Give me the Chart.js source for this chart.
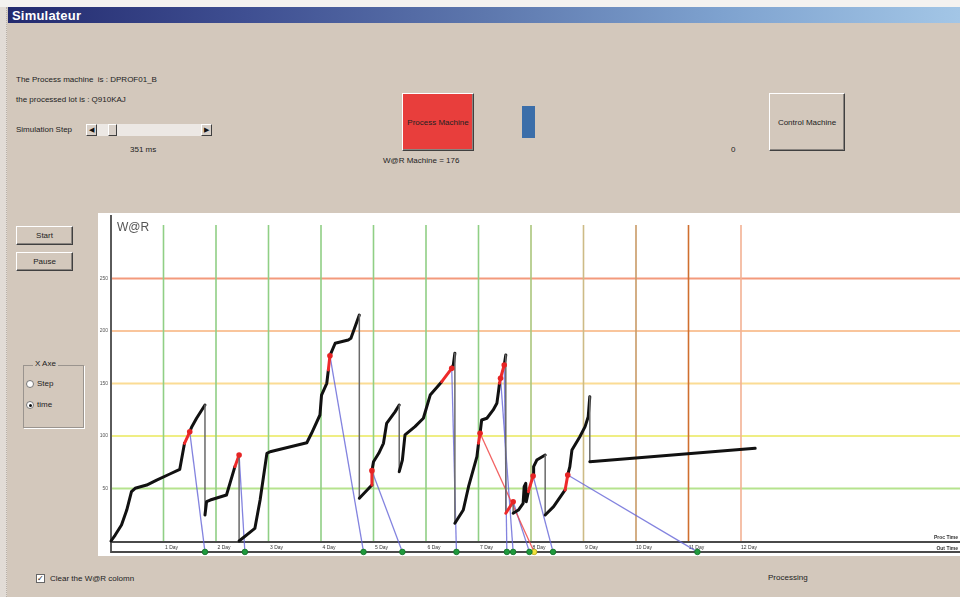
<!DOCTYPE html>
<html>
<head>
<meta charset="utf-8">
<script src="https://cdn.jsdelivr.net/npm/chart.js@4"></script>
<style>
  html,body{margin:0;padding:0;}
  body{width:960px;height:597px;position:relative;overflow:hidden;background:#d3c8bc;font-family:"Liberation Sans",Arial,sans-serif;font-size:8px;color:#222;}
  .abs{position:absolute;white-space:nowrap;}
  #topstrip{left:0;top:0;width:960px;height:7px;background:#f4f2f0;}
  #leftstrip{left:0;top:7px;width:6px;height:590px;background:#e2dcd6;border-right:1px dotted #b8b0a8;}
  #titlebar{left:8px;top:7px;width:952px;height:16px;background:linear-gradient(90deg,#232a6e 0%,#3f4f92 25%,#5d77ad 50%,#7ea2cf 75%,#a3c6e6 100%);}
  #titlebar span{position:absolute;left:4px;top:1px;font:bold 13px "Liberation Sans",Arial,sans-serif;color:#fff;letter-spacing:0.2px;}
  .btn{position:absolute;box-sizing:border-box;background:#d3c8bc;border-top:1px solid #fff;border-left:1px solid #fff;border-right:1px solid #404040;border-bottom:1px solid #404040;box-shadow:inset -1px -1px 0 #8a8580;display:flex;align-items:center;justify-content:center;font-size:8px;color:#222;}
  #scroll{left:86px;top:124px;width:126px;height:12px;background:#ece8e4;}
  .sb{position:absolute;top:0;width:11px;height:12px;box-sizing:border-box;background:#d8d0c8;border-top:1px solid #fff;border-left:1px solid #fff;border-right:1px solid #404040;border-bottom:1px solid #404040;font-size:7px;line-height:10px;text-align:center;color:#111;}
  #group{left:23px;top:365px;width:61px;height:63px;box-sizing:border-box;border:1px solid #9a948e;box-shadow:1px 1px 0 #fff;}
  .radio{position:absolute;width:8px;height:8px;border-radius:50%;background:#fff;border:1px solid #777;box-sizing:border-box;}
  #chartbox{position:absolute;left:98px;top:213px;width:862px;height:343px;background:#fff;}
</style>
</head>
<body>
<div id="topstrip" class="abs"></div>
<div id="leftstrip" class="abs"></div>
<div id="titlebar" class="abs"><span>Simulateur</span></div>

<div class="abs" style="left:16px;top:75px;">The Process machine&nbsp; is : DPROF01_B</div>
<div class="abs" style="left:16px;top:95px;">the processed lot is : Q910KAJ</div>
<div class="abs" style="left:16px;top:125px;">Simulation Step</div>
<div id="scroll" class="abs">
  <div class="sb" style="left:0;">&#9664;</div>
  <div class="sb" style="left:22px;width:9px;"></div>
  <div class="sb" style="left:115px;">&#9654;</div>
</div>
<div class="abs" style="left:130px;top:145px;">351 ms</div>

<div class="btn" style="left:402px;top:93px;width:72px;height:58px;background:#e83e3c;">Process Machine</div>
<div class="abs" style="left:383px;top:156px;">W@R Machine = 176</div>
<div class="abs" style="left:522px;top:106px;width:13px;height:32px;background:#3b6ea9;"></div>
<div class="abs" style="left:731px;top:145px;">0</div>
<div class="btn" style="left:769px;top:93px;width:76px;height:58px;">Control Machine</div>

<div class="btn" style="left:16px;top:226px;width:57px;height:19px;">Start</div>
<div class="btn" style="left:16px;top:252px;width:57px;height:19px;">Pause</div>

<div id="group" class="abs"></div>
<div class="abs" style="left:33px;top:359px;background:#d3c8bc;padding:0 2px;">X Axe</div>
<div class="radio abs" style="left:26px;top:380px;"></div>
<div class="abs" style="left:37px;top:379px;">Step</div>
<div class="radio abs" style="left:26px;top:401px;"><div style="position:absolute;left:2px;top:2px;width:3px;height:3px;border-radius:50%;background:#111;"></div></div>
<div class="abs" style="left:37px;top:400px;">time</div>

<div class="abs" style="left:36px;top:574px;width:9px;height:9px;box-sizing:border-box;background:#fff;border:1px solid #666;font-size:8px;line-height:7px;text-align:center;">&#10003;</div>
<div class="abs" style="left:50px;top:574px;">Clear the W@R colomn</div>
<div class="abs" style="left:768px;top:573px;">Processing</div>

<div id="chartbox"><canvas id="c" width="862" height="343"></canvas></div>

<script>
// ---------- DATA ----------
const yTicks = [50, 100, 150, 200, 250];
const dayTicks = [1, 2, 3, 4, 5, 6, 7, 8, 9, 10, 11, 12];

// W@R curve (time in days, W@R value)
const curveDay = [
  0, 0.08, 0.20, 0.30, 0.39, 0.46, 0.68, 0.87, 1.12, 1.31, 1.40, 1.50, 1.54, 1.63, 1.79,
  1.79, 1.82, 1.89, 2.20, 2.36, 2.44,
  2.44, 2.74, 2.84, 2.97, 3.03, 3.73, 3.82, 3.98, 4.01, 4.11, 4.14, 4.17, 4.27, 4.52, 4.57, 4.73,
  4.73, 4.97, 4.97, 5.00, 5.10, 5.19, 5.25, 5.41, 5.49,
  5.49, 5.55, 5.60, 5.79, 5.95, 6.08, 6.30, 6.49, 6.52, 6.55,
  6.55, 6.71, 6.81, 6.97, 7.00, 7.03, 7.06, 7.16, 7.28, 7.35, 7.38, 7.40, 7.42, 7.49, 7.52,
  7.52, 7.66,
  7.66, 7.76, 7.85, 7.87, 7.90, 7.91, 7.95, 8.04, 8.05, 8.11, 8.27,
  8.27, 8.43, 8.65, 8.70, 8.74, 8.78, 8.93, 9.03, 9.09, 9.12,
  9.12, 12.27
];
const curveWaR = [
  0, 5.7, 15.2, 29.5, 47, 50.2, 53.3, 58, 63.8, 68.3, 93, 104, 108.9, 116.9, 129.5,
  24.8, 37.4, 39, 43.8, 70.8, 81.9,
  0, 12, 39, 83.5, 85, 93.6, 102.6, 120, 139, 150.2, 162.9, 176.5, 188.3, 191.4, 193, 215.2,
  40.7, 53.3, 67, 75.5, 83.5, 93, 112, 123, 129.5,
  66, 77, 101, 108.9, 116.9, 139, 151.7, 164.5, 167.6, 178.8,
  16.9, 29.5, 51.7, 80.3, 93, 102.6, 115.2, 116.9, 124.8, 131.1, 142.2, 150.2, 155, 167.6, 177.1,
  26.4, 37.4,
  26.4, 29.5, 35.9, 51.7, 55, 37.4, 47, 61.9, 70.8, 77.1, 81.9,
  24.8, 32.7, 48.6, 62.9, 70.8, 86.7, 99.3, 108.9, 118.4, 137.4,
  75.5, 88.3
];
// curve segments (index i -> i+1) spent in the process machine
const processedSeg = [10, 19, 31, 38, 52, 60, 67, 68, 71, 79, 86];
// lots marked on the curve and their out time (days)
const markIdx = [11, 20, 32, 39, 53, 61, 68, 69, 72, 80, 87];
const outDay  = [1.79, 2.55, 4.81, 5.55, 6.58, 8.06, 7.66, 7.54, 7.97, 8.42, 11.17];
const outLate = [false, false, false, false, false, true, false, false, false, false, false];

// ---------- LAYOUT (pixel mapping of the white plot box) ----------
const PX_X0 = 13, PX_PER_DAY = 52.5, BOX_W = 862;   // day 0 at 13px from box left
const PX_Y0 = 328, PX_PER_UNIT = 1.05, BOX_H = 343; // value 0 at 328px from box top
const X_MIN = -PX_X0 / PX_PER_DAY, X_MAX = (BOX_W - PX_X0) / PX_PER_DAY;
const Y_MAX = PX_Y0 / PX_PER_UNIT, Y_MIN = -(BOX_H - PX_Y0) / PX_PER_UNIT;
const OUT_LEVEL = -10.4, GRID_TOP = 301;

const hColors = ['#b6e38e', '#efee84', '#fbdc94', '#f9c59c', '#f39a7c'];
const vColors = ['#90cf85','#90cf85','#90cf85','#90cf85','#90cf85','#90cf85','#90cf85',
                 '#abc67c','#cdbb86','#c99a66','#cf6f2f','#f3b193'];

const curvePts = curveDay.map((d, i) => ({x: d, y: curveWaR[i]}));
const isDrop = i => curveDay[i + 1] === curveDay[i] && curveWaR[i + 1] < curveWaR[i];

const datasets = [];
// links from marked points to their out time
markIdx.forEach((mi, k) => {
  datasets.push({
    data: [{x: curveDay[mi], y: curveWaR[mi]}, {x: outDay[k], y: OUT_LEVEL}],
    borderColor: outLate[k] ? 'rgba(240,70,70,0.85)' : 'rgba(100,100,215,0.8)',
    borderWidth: 1.3, pointRadius: 0, order: 3
  });
});
// W@R curve
datasets.push({
  data: curvePts,
  order: 1,
  borderColor: '#111',
  borderWidth: 3,
  borderJoinStyle: 'round',
  borderCapStyle: 'round',
  tension: 0,
  pointRadius: ctx => markIdx.includes(ctx.dataIndex) ? 2.8 : 0,
  pointBackgroundColor: '#e62424',
  pointBorderColor: '#e62424',
  pointBorderWidth: 0,
  segment: {
    borderColor: ctx => processedSeg.includes(ctx.p0DataIndex) ? '#ee2a2a' : (isDrop(ctx.p0DataIndex) ? '#6a6a6a' : '#111'),
    borderWidth: ctx => isDrop(ctx.p0DataIndex) ? 1.5 : 3
  }
});
// out time dots
datasets.push({
  data: outDay.map(d => ({x: d, y: OUT_LEVEL})),
  showLine: false, order: 0,
  pointRadius: 2.8,
  pointBackgroundColor: outLate.map(l => l ? '#f2e23c' : '#1f9a3c'),
  pointBorderColor: outLate.map(l => l ? '#b8a820' : '#14702a'),
  pointBorderWidth: 0.8
});

const bgPlugin = {
  id: 'bg',
  beforeDatasetsDraw(chart) {
    const {ctx, chartArea, scales: {x, y}} = chart;
    const x0 = x.getPixelForValue(0);
    const right = chartArea.right;
    ctx.save();
    // horizontal W@R level lines
    yTicks.forEach((v, i) => {
      const py = y.getPixelForValue(v);
      ctx.strokeStyle = hColors[i]; ctx.lineWidth = 2;
      ctx.beginPath(); ctx.moveTo(x0, py); ctx.lineTo(right, py); ctx.stroke();
      ctx.fillStyle = '#555'; ctx.font = '5px "Liberation Sans", Arial';
      ctx.textAlign = 'right'; ctx.textBaseline = 'middle';
      ctx.fillText(String(v), x0 - 3, py);
    });
    // vertical day lines
    const yTop = y.getPixelForValue(GRID_TOP), yZero = y.getPixelForValue(0);
    dayTicks.forEach((d, i) => {
      const px = x.getPixelForValue(d);
      ctx.strokeStyle = vColors[i]; ctx.lineWidth = 1.6;
      ctx.beginPath(); ctx.moveTo(px, yTop); ctx.lineTo(px, yZero); ctx.stroke();
    });
    // axes
    const yOut = y.getPixelForValue(OUT_LEVEL);
    ctx.strokeStyle = '#5a5a5a'; ctx.lineWidth = 2;
    ctx.beginPath(); ctx.moveTo(x0, chartArea.top + 2); ctx.lineTo(x0, yOut + 1); ctx.stroke();
    ctx.strokeStyle = '#4a4a4a';
    ctx.beginPath(); ctx.moveTo(x0, yZero + 1); ctx.lineTo(right, yZero + 1); ctx.stroke();
    ctx.beginPath(); ctx.moveTo(x0, yOut); ctx.lineTo(right, yOut); ctx.stroke();
    // day labels
    ctx.fillStyle = '#333'; ctx.font = '5px "Liberation Sans", Arial';
    ctx.textAlign = 'center'; ctx.textBaseline = 'middle';
    dayTicks.forEach(d => {
      ctx.fillText(d + ' Day', x.getPixelForValue(d) + 8, (yZero + yOut) / 2 + 1);
    });
    ctx.textAlign = 'right';
    ctx.font = 'bold 5px "Liberation Sans", Arial';
    ctx.fillText('Proc Time', right - 2, yZero - 3);
    ctx.fillText('Out Time', right - 2, yOut - 3);
    // title
    ctx.fillStyle = '#555'; ctx.font = '12px "Liberation Sans", Arial';
    ctx.textAlign = 'left'; ctx.textBaseline = 'middle';
    ctx.fillText('W@R', x0 + 6, y.getPixelForValue(GRID_TOP) + 3);
    ctx.restore();
  }
};

new Chart(document.getElementById('c'), {
  type: 'line',
  data: {datasets},
  options: {
    responsive: false,
    animation: false,
    parsing: true,
    layout: {padding: 0, autoPadding: false},
    plugins: {legend: {display: false}, tooltip: {enabled: false}},
    scales: {
      x: {type: 'linear', min: X_MIN, max: X_MAX, display: false},
      y: {type: 'linear', min: Y_MIN, max: Y_MAX, display: false}
    }
  },
  plugins: [bgPlugin]
});
</script>
</body>
</html>
